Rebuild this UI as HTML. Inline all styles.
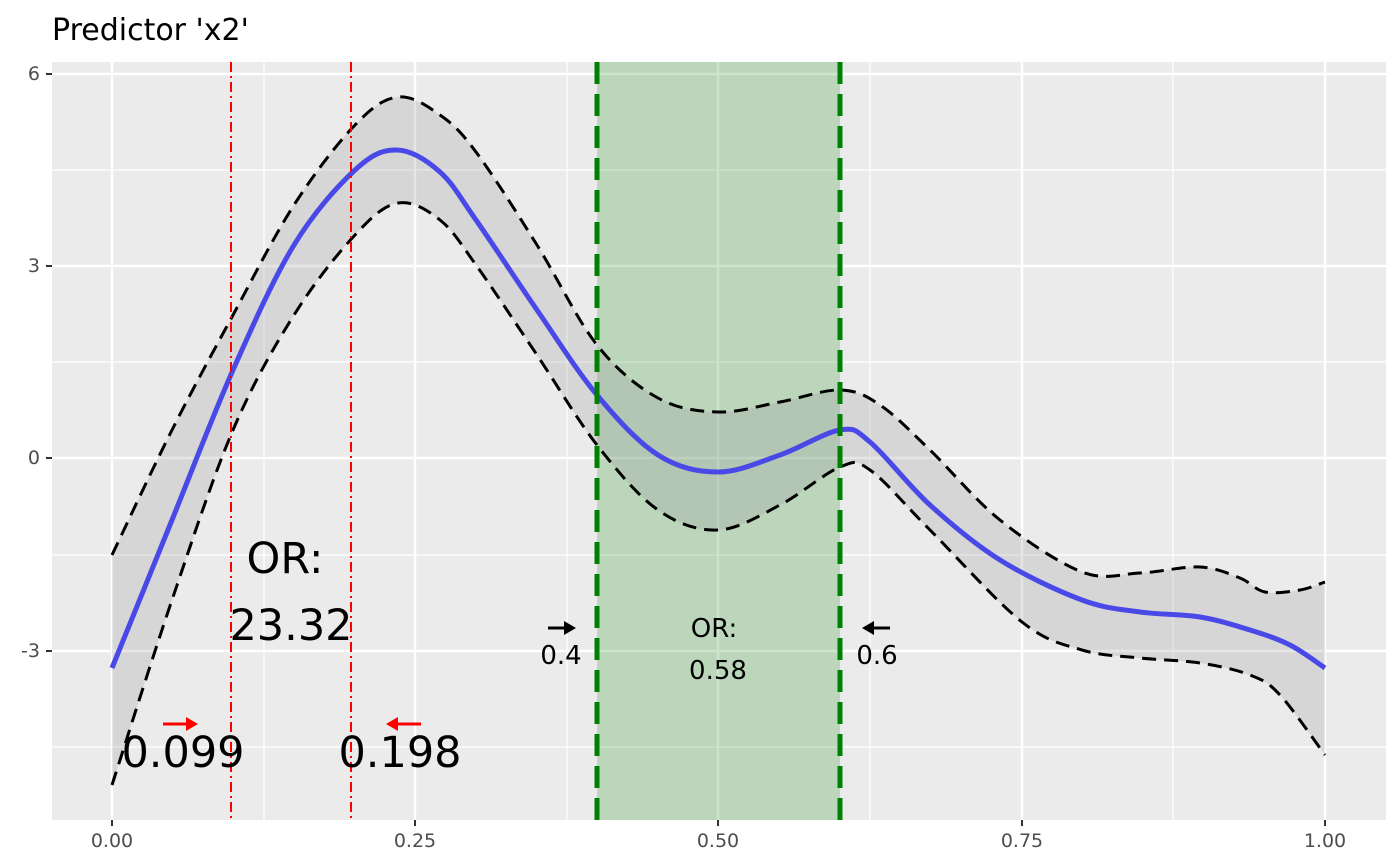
<!DOCTYPE html>
<html><head><meta charset="utf-8"><style>body{margin:0;background:#fff}svg{display:block}</style></head><body>
<svg width="1400" height="866" xmlns="http://www.w3.org/2000/svg" font-family="DejaVu Sans, Liberation Sans, sans-serif">
<rect width="1400" height="866" fill="#fff"/>
<text x="52" y="40" font-size="30" fill="#000">Predictor 'x2'</text>
<rect x="52" y="62" width="1334" height="758" fill="#ebebeb"/>
<g stroke="#fff" stroke-width="1.2">
<line x1="52" x2="1386" y1="170" y2="170"/><line x1="52" x2="1386" y1="362" y2="362"/><line x1="52" x2="1386" y1="555" y2="555"/><line x1="52" x2="1386" y1="747" y2="747"/>
<line y1="62" y2="820" x1="264" x2="264"/><line y1="62" y2="820" x1="567" x2="567"/><line y1="62" y2="820" x1="870" x2="870"/><line y1="62" y2="820" x1="1173" x2="1173"/>
</g>
<g stroke="#fff" stroke-width="2.4">
<line x1="52" x2="1386" y1="74" y2="74"/><line x1="52" x2="1386" y1="266" y2="266"/><line x1="52" x2="1386" y1="458" y2="458"/><line x1="52" x2="1386" y1="651" y2="651"/>
<line y1="62" y2="820" x1="112" x2="112"/><line y1="62" y2="820" x1="415" x2="415"/><line y1="62" y2="820" x1="718" x2="718"/><line y1="62" y2="820" x1="1022" x2="1022"/><line y1="62" y2="820" x1="1325" x2="1325"/>
</g>
<rect x="597" y="62" width="243" height="758" fill="#008000" fill-opacity="0.2"/>
<path id="band" fill="#999" fill-opacity="0.25"/>
<g fill="none" stroke="#000" stroke-width="3" stroke-dasharray="14,8"><path id="up"/><path id="lo"/></g>
<path id="mean" fill="none" stroke="#4949e8" stroke-width="5"/>
<g stroke="#008000" stroke-width="5" stroke-dasharray="22,10"><line x1="597" x2="597" y1="62" y2="820"/><line x1="840" x2="840" y1="62" y2="820"/></g>
<g stroke="#f00" stroke-width="2" stroke-dasharray="10,4,2,4"><line x1="231" x2="231" y1="62" y2="820"/><line x1="351" x2="351" y1="62" y2="820"/></g>
<g font-size="43" fill="#000" text-anchor="middle"><text x="285" y="573">OR:</text><text x="291" y="640">23.32</text><text x="183" y="767">0.099</text><text x="400" y="767">0.198</text></g>
<g font-size="26" fill="#000" text-anchor="middle"><text x="714" y="637">OR:</text><text x="718" y="679">0.58</text><text x="561" y="664">0.4</text><text x="877" y="664">0.6</text></g>
<g stroke="#f00" stroke-width="3" fill="#f00"><line x1="163" x2="188" y1="724" y2="724"/><path d="M198,724 L186,717 L186,731 Z" stroke="none"/><line x1="396" x2="421" y1="724" y2="724"/><path d="M386,724 L398,717 L398,731 Z" stroke="none"/></g>
<g stroke="#000" stroke-width="3" fill="#000"><line x1="548" x2="566" y1="628" y2="628"/><path d="M576,628 L564,621 L564,635 Z" stroke="none"/><line x1="872" x2="890" y1="628" y2="628"/><path d="M862,628 L874,621 L874,635 Z" stroke="none"/></g>
<g stroke="#333" stroke-width="2"><line x1="46" x2="52" y1="74" y2="74"/><line x1="46" x2="52" y1="266" y2="266"/><line x1="46" x2="52" y1="458" y2="458"/><line x1="46" x2="52" y1="651" y2="651"/>
<line y1="820" y2="826" x1="112" x2="112"/><line y1="820" y2="826" x1="415" x2="415"/><line y1="820" y2="826" x1="718" x2="718"/><line y1="820" y2="826" x1="1022" x2="1022"/><line y1="820" y2="826" x1="1325" x2="1325"/></g>
<g font-size="19" fill="#4d4d4d" text-anchor="end"><text x="40" y="80">6</text><text x="40" y="272">3</text><text x="40" y="464">0</text><text x="40" y="657">-3</text></g>
<g font-size="19" fill="#4d4d4d" text-anchor="middle"><text x="112" y="847">0.00</text><text x="415" y="847">0.25</text><text x="718" y="847">0.50</text><text x="1022" y="847">0.75</text><text x="1325" y="847">1.00</text></g>
</svg>
<script>
var U=[[112,555],[172,430],[233,315],[294,205],[355,125],[398,97],[440,115],[476,152],[537,245],[597,345],[658,398],[718,412],[780,402],[840,390],[880,405],[930,450],[1000,520],[1082,572],[1140,573],[1200,567],[1240,578],[1265,592],[1300,590],[1325,582]];
var L=[[112,785],[172,600],[233,430],[294,315],[355,235],[398,203],[440,220],[476,265],[537,355],[597,445],[658,510],[718,530],[780,505],[840,467],[870,470],[930,530],[1022,622],[1082,650],[1140,658],[1200,663],[1250,675],[1280,695],[1325,755]];
var M=[[112,668],[172,520],[233,370],[294,245],[355,170],[397,150],[440,172],[476,220],[537,310],[597,395],[658,455],[718,472],[780,455],[840,430],[870,442],[930,505],[1000,560],[1082,600],[1140,612],[1200,617],[1250,630],[1290,645],[1325,668]];
function cr(p,start){var d=start?"M"+p[0]:"L"+p[0];for(var i=0;i<p.length-1;i++){var a=p[i-1]||p[i],b=p[i],c=p[i+1],e=p[i+2]||c;d+=" C"+(b[0]+(c[0]-a[0])/6)+","+(b[1]+(c[1]-a[1])/6)+" "+(c[0]-(e[0]-b[0])/6)+","+(c[1]-(e[1]-b[1])/6)+" "+c[0]+","+c[1];}return d;}
document.getElementById("up").setAttribute("d",cr(U,1));
document.getElementById("lo").setAttribute("d",cr(L,1));
document.getElementById("mean").setAttribute("d",cr(M,1));
document.getElementById("band").setAttribute("d",cr(U,1)+" "+cr(L.slice().reverse(),0)+"Z");
</script>
</body></html>
